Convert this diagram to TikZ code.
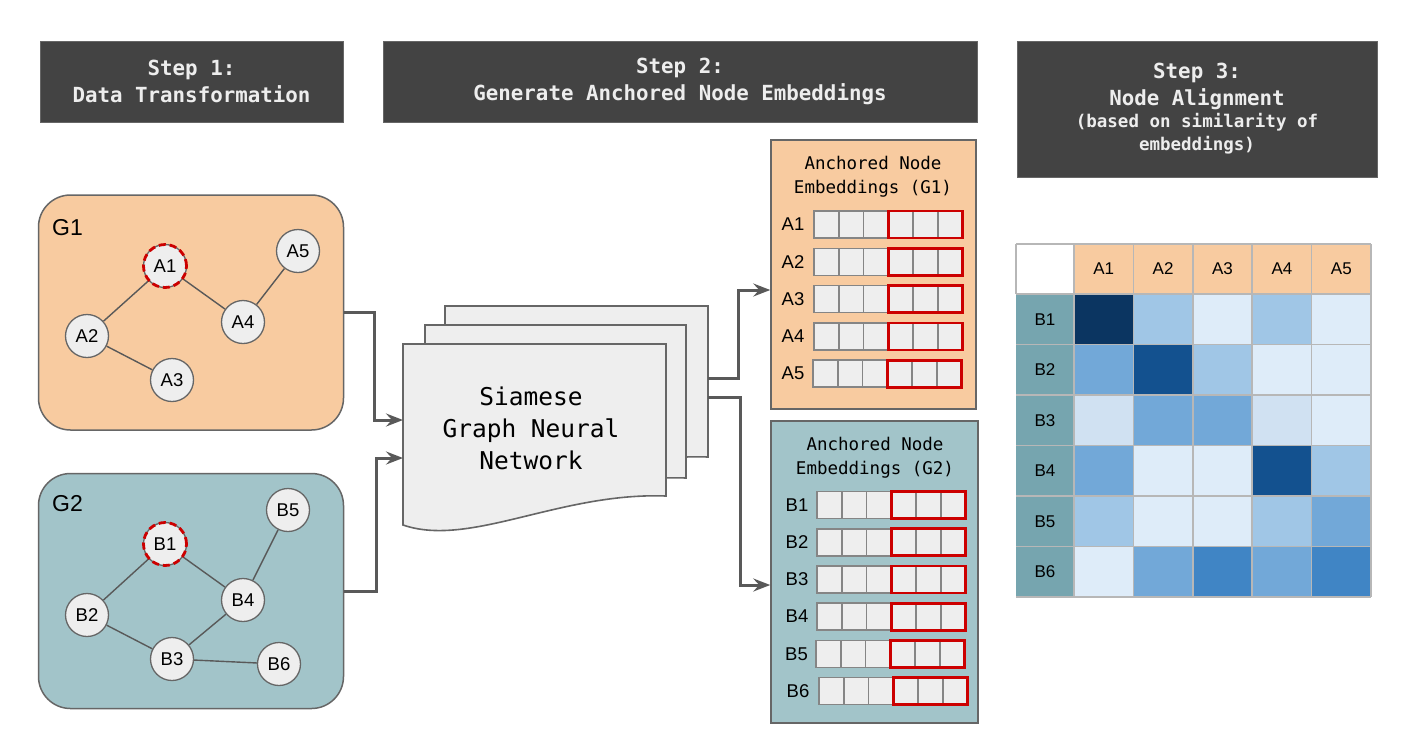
\documentclass[tikz,border=0pt]{standalone}
\usepackage{fontspec}
\setmainfont{Liberation Sans}
\newfontfamily\monof{DejaVu Sans Mono}
\usetikzlibrary{arrows.meta,calc}
\definecolor{hdr}{HTML}{434343}
\definecolor{hdrline}{HTML}{666666}
\definecolor{peach}{HTML}{F8CBA0}
\definecolor{tealA}{HTML}{A2C4C9}
\definecolor{tealB}{HTML}{76A5AF}
\definecolor{edgegray}{HTML}{666666}
\definecolor{conngray}{HTML}{595959}
\definecolor{nodefill}{HTML}{EEEEEE}
\definecolor{redd}{HTML}{CC0000}
\definecolor{cellline}{HTML}{858585}
\definecolor{gridgray}{HTML}{B7B7B7}
\definecolor{m1}{HTML}{0B3561}
\definecolor{m2}{HTML}{13518F}
\definecolor{m3}{HTML}{4085C5}
\definecolor{m4}{HTML}{72A8D8}
\definecolor{m5}{HTML}{A0C6E6}
\definecolor{m6}{HTML}{D0E1F2}
\definecolor{m7}{HTML}{DEECF9}
\begin{document}
\begin{tikzpicture}[x=1pt,y=-1pt,
  hdrbox/.style={fill=hdr, draw=hdrline, line width=1pt, text=white!93!black, font=\monof\bfseries\fontsize{20.8}{27}\selectfont, align=center, inner sep=0pt},
  gbox/.style={draw=edgegray, line width=1.5pt, rounded corners=32pt, inner sep=0pt},
  glabel/.style={font=\fontsize{23}{27}\selectfont, anchor=base west, inner sep=0pt},
  gnode/.style={circle, draw=edgegray, fill=nodefill, line width=1.3pt, minimum size=43pt, inner sep=0pt, font=\fontsize{18.5}{20}\selectfont},
  anc/.style={draw=redd, line width=2.8pt, dash pattern=on 7pt off 4pt},
  gedge/.style={draw=conngray, line width=1.4pt},
  doc/.style={fill=nodefill, draw=edgegray, line width=1.6pt},
  conn/.style={draw=conngray, line width=3pt, -{Stealth[length=17pt,width=13pt,inset=6pt]}},
  embbox/.style={draw=edgegray, line width=1.5pt, inner sep=0pt},
  embtitle/.style={font=\monof\fontsize{17.5}{24}\selectfont, align=center, inner sep=0pt},
  elabel/.style={font=\fontsize{18.5}{20}\selectfont, inner sep=0pt},
  cell/.style={fill=nodefill, draw=cellline, line width=1.6pt},
  redbox/.style={draw=redd, line width=2.8pt},
  mlabel/.style={font=\fontsize{17}{18}\selectfont, inner sep=0pt}
]
\useasboundingbox (0,0) rectangle (1402,748);
\fill[white] (0,0) rectangle (1402,748);

% headers
\node[hdrbox, minimum width=303pt, minimum height=81pt] (h1) at (191.5,81.5) {Step 1:\\Data Transformation};
\node[hdrbox, minimum width=594pt, minimum height=81pt] (h2) at (680,81.5) {Step 2:\\Generate Anchored Node Embeddings};
\node[hdrbox, minimum width=360pt, minimum height=136pt] (h3) at (1197,109) {Step 3:\\Node Alignment\\[-5pt]{\fontsize{17.5}{23}\selectfont (based on similarity of}\\[-4pt]{\fontsize{17.5}{23}\selectfont embeddings)}};

% graph boxes
\node[gbox, fill=peach, minimum width=305pt, minimum height=235pt] (g1) at (191,312.5) {};
\node[gbox, fill=tealA, minimum width=305pt, minimum height=235pt] (g2) at (191,591) {};
\node[glabel] (g1lab) at (52,235) {G1};
\node[glabel] (g2lab) at (52,511) {G2};

% G1 nodes
\node[gnode] (a1) at (165,266) {A1};
\node[gnode] (a2) at (87,336) {A2};
\node[gnode] (a3) at (172,380) {A3};
\node[gnode] (a4) at (243,322) {A4};
\node[gnode] (a5) at (298,251) {A5};
\draw[gedge] (a1) -- (a2);
\draw[gedge] (a1) -- (a4);
\draw[gedge] (a4) -- (a5);
\draw[gedge] (a2) -- (a3);
\draw[anc] (a1.center) circle (21.5pt);

% G2 nodes
\node[gnode] (b1) at (165,544) {B1};
\node[gnode] (b2) at (87,615) {B2};
\node[gnode] (b3) at (172,659) {B3};
\node[gnode] (b4) at (243,600) {B4};
\node[gnode] (b5) at (288,510) {B5};
\node[gnode] (b6) at (279,664) {B6};
\draw[gedge] (b1) -- (b2);
\draw[gedge] (b1) -- (b4);
\draw[gedge] (b4) -- (b5);
\draw[gedge] (b2) -- (b3);
\draw[gedge] (b3) -- (b4);
\draw[gedge] (b3) -- (b6);
\draw[anc] (b1.center) circle (21.5pt);

% Siamese GNN stacked documents
\draw[doc] (445,306) -- (708,306) -- (708,457) .. controls (601.5,453) and (512,509) .. (445,486) -- cycle;
\draw[doc] (425,325) -- (686,325) -- (686,478) .. controls (580.3,474) and (491.5,530) .. (425,507) -- cycle;
\draw[doc] (403,344) -- (666,344) -- (666,496) .. controls (559.5,492) and (470,548) .. (403,525) -- cycle;
\node[font=\monof\fontsize{24.5}{32}\selectfont, align=center, inner sep=0pt] (gnn) at (531,428) {Siamese\\Graph Neural\\Network};
\coordinate (gnnin1) at (403,420);
\coordinate (gnnin2) at (403,458);
\coordinate (gnnout1) at (708,378);
\coordinate (gnnout2) at (708,397);

% embedding boxes
\node[embbox, fill=peach, minimum width=205pt, minimum height=269pt] (emb1) at (873.5,274.5) {};
\node[embbox, fill=tealA, minimum width=207pt, minimum height=302pt] (emb2) at (874.5,572) {};
\node[embtitle] (emb1t) at (873,177) {Anchored Node\\Embeddings (G1)};
\node[embtitle] (emb2t) at (875,458) {Anchored Node\\Embeddings (G2)};

\foreach \i/\lab/\dx in {1/A1/0,2/A2/0,3/A3/0,4/A4/0,5/A5/-1} {
  \pgfmathsetmacro\yc{224.5+(\i-1)*37.3}
  \node[elabel] (e\lab) at (793,\yc) {\lab};
  \foreach \k in {0,...,5} {
    \draw[cell] ({814+\dx+\k*24.8},{\yc-13.5}) rectangle ++(24.8,27);
  }
  \draw[redbox] ({814+\dx+3*24.8},{\yc-13.5}) rectangle ++(74.4,27);
}
\foreach \i/\lab/\dx in {1/B1/0,2/B2/0,3/B3/0,4/B4/0,5/B5/-1,6/B6/2} {
  \pgfmathsetmacro\yc{505+(\i-1)*37.2}
  \node[elabel] (e\lab) at ({797+\dx/2},\yc) {\lab};
  \foreach \k in {0,...,5} {
    \draw[cell] ({817+\dx+\k*24.8},{\yc-13.5}) rectangle ++(24.8,27);
  }
  \draw[redbox] ({817+\dx+3*24.8},{\yc-13.5}) rectangle ++(74.4,27);
}

% connectors
\draw[conn] (g1.east) -- ++(30,0) |- (gnnin1);
\draw[conn] (g2.east) -- ++(32,0) |- (gnnin2);
\draw[conn] (gnnout1) -- ++(30,0) |- ($(emb1.west)+(0,15.5)$);
\draw[conn] (gnnout2) -- ++(32,0) |- ($(emb2.west)+(0,13)$);

% similarity matrix
\fill[white] (1016,244) rectangle (1074,294);
\fill[peach] (1074,244) rectangle (1371,294);
\fill[tealB] (1016,294) rectangle (1074,597);
\foreach \r/\vals in {1/{1,5,7,5,7},2/{4,2,5,7,7},3/{6,4,4,6,7},4/{4,7,7,2,5},5/{5,7,7,5,4},6/{7,4,3,4,3}} {
  \foreach \c [count=\j] in \vals {
    \fill[m\c] ({1074+(\j-1)*59.4},{294+(\r-1)*50.5}) rectangle ++(59.4,50.5);
  }
}
\foreach \j in {0,...,5} {
  \draw[gridgray, line width=1.6pt] ({1074+\j*59.4},244) -- ({1074+\j*59.4},597);
}
\draw[gridgray, line width=1.6pt] (1016,244) -- (1016,294);
\foreach \r in {0,...,7} {
  \pgfmathsetmacro\yy{\r==0 ? 244 : 294+(\r-1)*50.5}
  \draw[gridgray, line width=1.6pt] (1016,\yy) -- (1371,\yy);
}
\foreach \j/\lab in {1/A1,2/A2,3/A3,4/A4,5/A5} {
  \node[mlabel] (mc\lab) at ({1074+(\j-0.5)*59.4},269) {\lab};
}
\foreach \r/\lab in {1/B1,2/B2,3/B3,4/B4,5/B5,6/B6} {
  \node[mlabel] (mr\lab) at (1045,{294+(\r-0.5)*50.5}) {\lab};
}
\end{tikzpicture}
\end{document}
